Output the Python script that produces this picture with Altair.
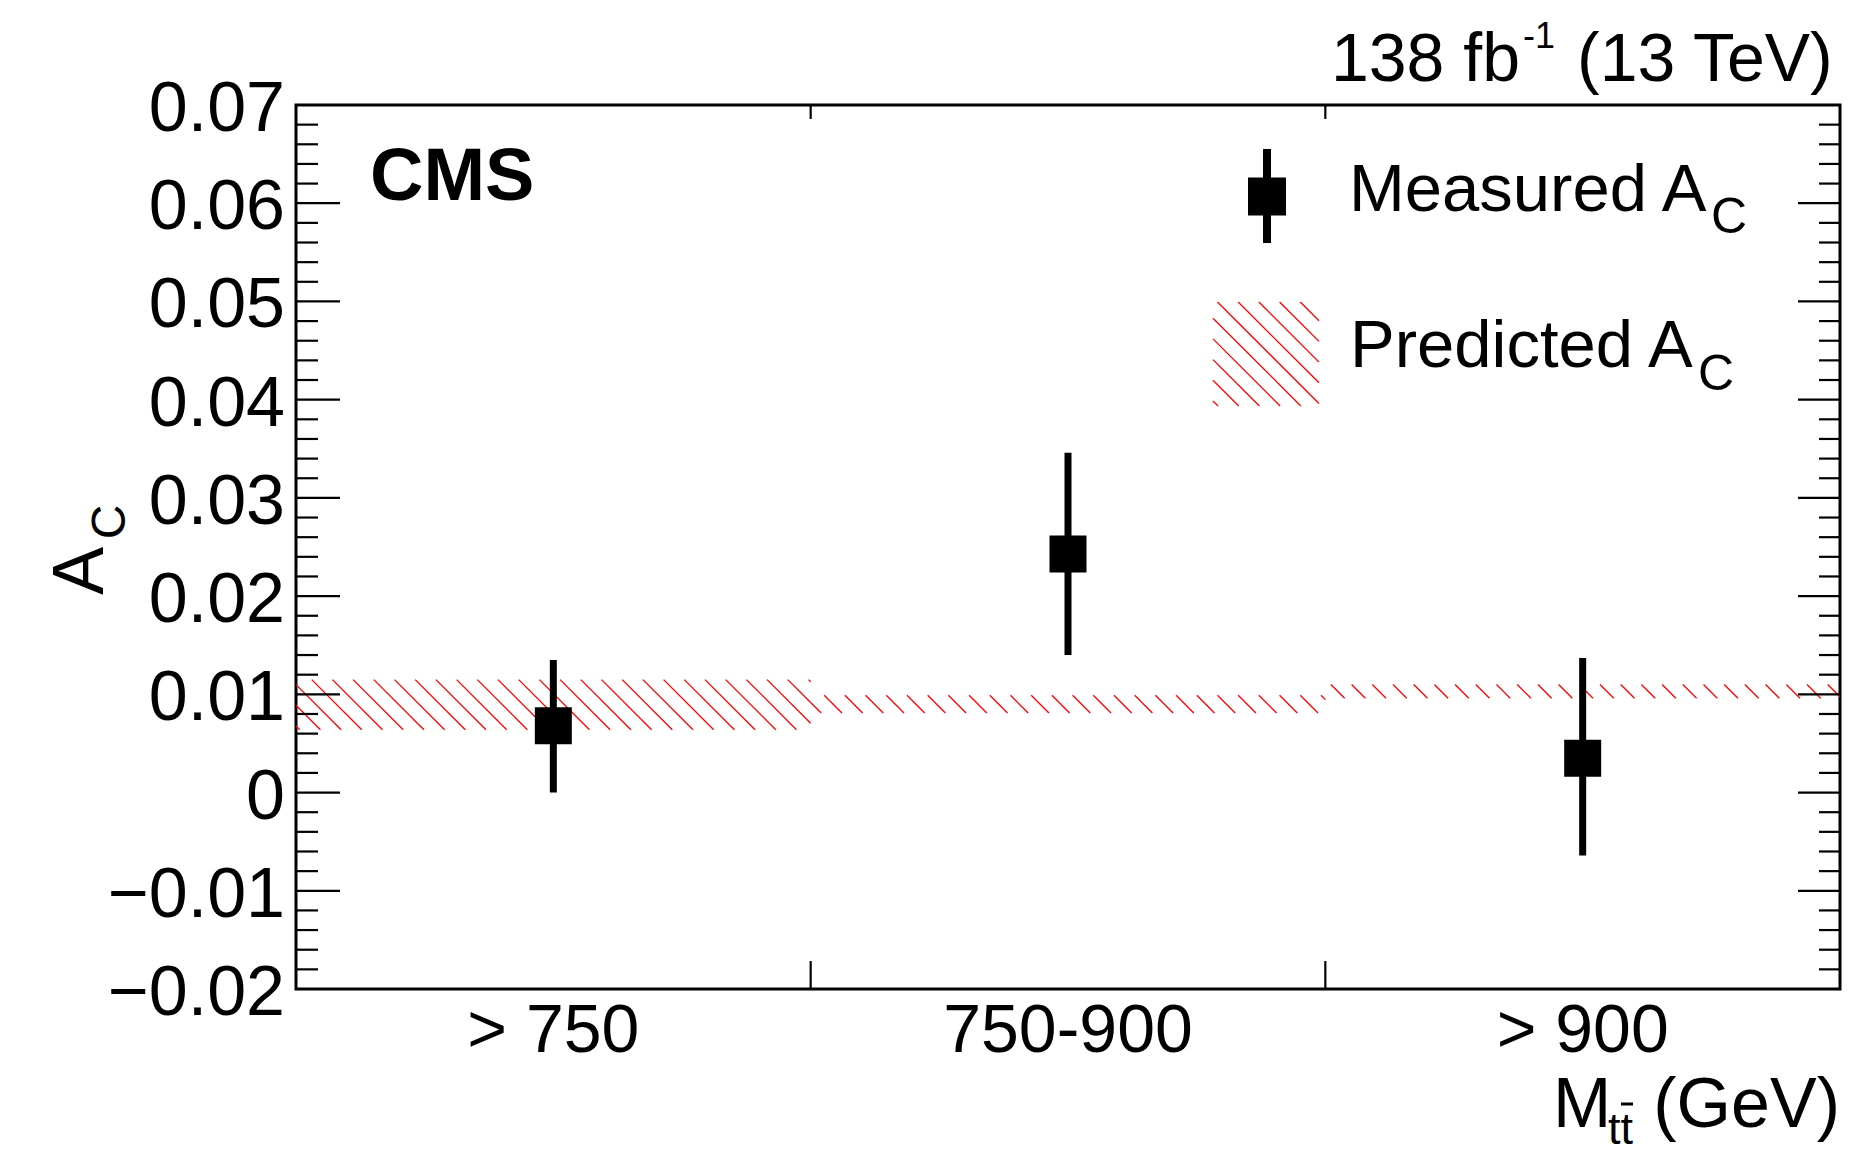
import altair as alt
import pandas as pd

# ---------------- data ----------------
bin_labels = ["> 750", "750-900", "> 900"]
bin_centers = [0.5, 1.5, 2.5]
bin_lo_edges = [0.0, 1.0, 2.0]
bin_hi_edges = [1.0, 2.0, 3.0]
inner_edges = [1.0, 2.0]

measured = [0.0068, 0.0243, 0.0035]
meas_up = [0.0067, 0.0103, 0.0102]
meas_dn = [0.0068, 0.0103, 0.0099]

pred_lo = [0.0064, 0.0081, 0.0096]
pred_hi = [0.0115, 0.0099, 0.0110]

y_major = [-0.02, -0.01, 0.0, 0.01, 0.02, 0.03, 0.04, 0.05, 0.06, 0.07]
y_minor_step = 0.002

# ---------------- geometry ----------------
W, H = 1544, 884
XMIN, XMAX = 0.0, 3.0
YMIN, YMAX = -0.02, 0.07
FONT = "Liberation Sans"
RED = "#ff0000"
HATCH_SP = 20.7  # px between hatch lines (horizontal)

xs = alt.Scale(domain=[XMIN, XMAX], nice=False, zero=False)
ys = alt.Scale(domain=[YMIN, YMAX], nice=False, zero=False)
pxx = W / (XMAX - XMIN)
pxy = H / (YMAX - YMIN)

# hatch lines ("\" at 45 deg in pixel space), clipped to each bin band
hrows = []
for b0, b1, lo, hi in zip(bin_lo_edges, bin_hi_edges, pred_lo, pred_hi):
    X0, X1 = b0 * pxx, b1 * pxx
    Yt, Yb = (YMAX - hi) * pxy, (YMAX - lo) * pxy
    k0 = int((X0 - Yb) // HATCH_SP) - 1
    k1 = int((X1 - Yt) // HATCH_SP) + 1
    for k in range(k0, k1 + 1):
        c = k * HATCH_SP
        xa = max(X0, Yt + c)
        xb = min(X1, Yb + c)
        if xb - xa > 0.5:
            ya, yb = xa - c, xb - c
            hrows.append({"x": xa / pxx, "y": YMAX - ya / pxy,
                          "x2": xb / pxx, "y2": YMAX - yb / pxy})
hatch_df = pd.DataFrame(hrows)

pts = pd.DataFrame({
    "c": bin_centers,
    "v": measured,
    "lo": [m - d for m, d in zip(measured, meas_dn)],
    "hi": [m + u for m, u in zip(measured, meas_up)],
})

minor_vals = []
n = int(round((YMAX - YMIN) / y_minor_step))
for i in range(n + 1):
    if i % 5 != 0:
        minor_vals.append(round(YMIN + i * y_minor_step, 4))
major_df = pd.DataFrame({"v": y_major})
minor_df = pd.DataFrame({"v": minor_vals})
edge_df = pd.DataFrame({"e": inner_edges})


def fmt(v):
    if abs(v) < 1e-12:
        return "0"
    s = f"{abs(v):.2f}"
    return ("\u2212" + s) if v < 0 else s


ylab_df = pd.DataFrame({"v": y_major, "t": [fmt(v) for v in y_major]})
xlab_df = pd.DataFrame({"c": bin_centers, "t": bin_labels})

one = pd.DataFrame({"a": [0]})


def X(f):
    return alt.X(f, scale=xs, axis=None)


def Y(f):
    return alt.Y(f, scale=ys, axis=None)


def txt(text, x, y, size, align="left", bold=False, angle=0, baseline="alphabetic"):
    return alt.Chart(pd.DataFrame({"t": [text]})).mark_text(
        align=align, baseline=baseline, fontSize=size, font=FONT,
        fontWeight="bold" if bold else "normal", angle=angle, color="black"
    ).encode(x=alt.value(x), y=alt.value(y), text="t:N")


layers = []

# hatch band
layers.append(alt.Chart(hatch_df).mark_rule(color=RED, strokeWidth=1.3).encode(
    x=X("x:Q"), y=Y("y:Q"), x2="x2:Q", y2="y2:Q"))

# error bars and markers
layers.append(alt.Chart(pts).mark_rule(color="black", strokeWidth=7).encode(
    x=X("c:Q"), y=Y("lo:Q"), y2="hi:Q"))
layers.append(alt.Chart(pts).mark_square(color="black", size=37 * 37, opacity=1).encode(
    x=X("c:Q"), y=Y("v:Q")))

# frame ticks (inside)
tk = dict(color="black", strokeWidth=2.2)
layers.append(alt.Chart(major_df).mark_rule(**tk).encode(
    y=Y("v:Q"), x=alt.value(0), x2=alt.value(44)))
layers.append(alt.Chart(minor_df).mark_rule(**tk).encode(
    y=Y("v:Q"), x=alt.value(0), x2=alt.value(22)))
layers.append(alt.Chart(major_df).mark_rule(**tk).encode(
    y=Y("v:Q"), x=alt.value(W), x2=alt.value(W - 42)))
layers.append(alt.Chart(minor_df).mark_rule(**tk).encode(
    y=Y("v:Q"), x=alt.value(W), x2=alt.value(W - 21)))
layers.append(alt.Chart(edge_df).mark_rule(**tk).encode(
    x=X("e:Q"), y=alt.value(H), y2=alt.value(H - 28)))
layers.append(alt.Chart(edge_df).mark_rule(**tk).encode(
    x=X("e:Q"), y=alt.value(0), y2=alt.value(14)))

# tick labels
layers.append(alt.Chart(ylab_df).mark_text(
    align="right", baseline="alphabetic", fontSize=70, font=FONT, dy=26, color="black"
).encode(y=Y("v:Q"), x=alt.value(-11), text="t:N"))
layers.append(alt.Chart(xlab_df).mark_text(
    align="center", baseline="alphabetic", fontSize=68, font=FONT, color="black"
).encode(x=X("c:Q"), y=alt.value(947), text="t:N"))

# axis titles
layers.append(txt("A", -193, 466, 72, align="center", angle=270))
layers.append(txt("C", -171, 417, 48, align="center", angle=270))
layers.append(txt("M", 1257, 1022, 70))
layers.append(txt("tt", 1312, 1039, 45))
layers.append(alt.Chart(one).mark_rule(color="black", strokeWidth=3).encode(
    x=alt.value(1325), x2=alt.value(1337), y=alt.value(999)))
layers.append(txt("(GeV)", 1544, 1022, 70, align="right"))

# header texts
layers.append(txt("CMS", 74, 95, 74, bold=True))
layers.append(txt("138 fb", 1224, -24, 68, align="right"))
layers.append(txt("-1", 1227, -57, 36))
layers.append(txt("(13 TeV)", 1281, -24, 68, align="left"))

# legend: measured
layers.append(alt.Chart(one).mark_rule(color="black", strokeWidth=8).encode(
    x=alt.value(971), y=alt.value(44), y2=alt.value(138)))
layers.append(alt.Chart(one).mark_square(color="black", size=38 * 38, opacity=1).encode(
    x=alt.value(971), y=alt.value(91.5)))
layers.append(txt("Measured A", 1053, 106, 67))
layers.append(txt("C", 1415, 128, 50))

# legend: predicted (hatched box)
bx0, bx1, by0, by1 = 917, 1023, 197, 301
lrows = []
k0 = int((bx0 - by1) // HATCH_SP) - 1
k1 = int((bx1 - by0) // HATCH_SP) + 1
for k in range(k0, k1 + 1):
    c = k * HATCH_SP
    xa = max(bx0, by0 + c)
    xb = min(bx1, by1 + c)
    if xb - xa > 0.5:
        lrows.append({"x": xa, "y": xa - c, "x2": xb, "y2": xb - c})
leg_hatch = pd.DataFrame(lrows)
layers.append(alt.Chart(leg_hatch).mark_rule(color=RED, strokeWidth=1.3).encode(
    x=alt.X("x:Q", scale=None), y=alt.Y("y:Q", scale=None),
    x2="x2:Q", y2="y2:Q"))
layers.append(txt("Predicted A", 1054, 262, 67))
layers.append(txt("C", 1402, 285, 50))

chart = alt.layer(*layers).properties(
    width=W, height=H,
    autosize=alt.AutoSizeParams(type="none"),
    padding={"left": 296, "top": 105, "right": 30, "bottom": 167},
    background="white",
).configure_view(stroke="black", strokeWidth=3)

chart.save("out.html", embed_options={"renderer": "svg", "actions": False})
